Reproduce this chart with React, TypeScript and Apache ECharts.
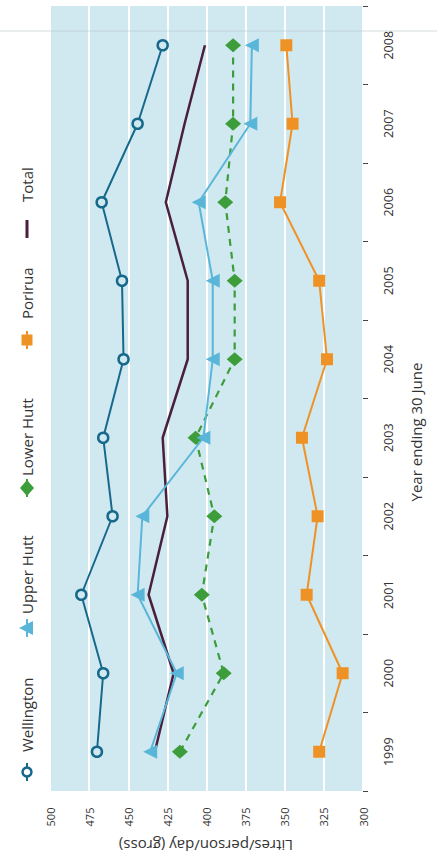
import React, { useEffect, useRef } from "react";
import * as echarts from "echarts";

const years = ["1999", "2000", "2001", "2002", "2003", "2004", "2005", "2006", "2007", "2008"];
const wellington = [470, 466, 480, 460, 466, 453, 454, 467, 444, 428];
const upperHutt = [436, 419, 444, 441, 402, 396, 396, 405, 372, 371];
const lowerHutt = [417, 389, 403, 395, 407, 382, 382, 388, 383, 383];
const porirua = [328, 313, 336, 329, 339, 323, 328, 353, 345, 349];
const total = [433, 421, 437, 425, 428, 412, 412, 426, 414, 401];

const C_WEL = "#17698c";
const C_UH = "#5ab6d9";
const C_LH = "#3c9d3a";
const C_POR = "#ef9226";
const C_TOT = "#4a1f3c";
const BG = "#d0e9f1";
const FONT = "'Open Sans', 'Noto Sans', sans-serif";
const TXT = "#333";

export default function App() {
  const ref = useRef<HTMLDivElement>(null);
  useEffect(() => {
    document.body.style.margin = "0";
    const chart = echarts.init(ref.current!, null, { renderer: "svg" });
    const lx = 27;
    const legendText = (y: number, t: string) => ({
      type: "text",
      x: lx,
      y,
      rotation: Math.PI / 2,
      style: { text: t, fill: TXT, font: `15px ${FONT}`, textAlign: "left", textVerticalAlign: "middle" },
    });
    const legendLine = (y: number, color: string, w = 2) => ({
      type: "line",
      shape: { x1: lx, y1: y - 9, x2: lx, y2: y + 9 },
      style: { stroke: color, lineWidth: w },
    });
    chart.setOption({
      animation: false,
      backgroundColor: "#fff",
      grid: { left: 50, right: 74, top: 6, bottom: 67, show: true, backgroundColor: BG, borderWidth: 0 },
      xAxis: {
        type: "value",
        inverse: true,
        min: 300,
        max: 500,
        interval: 25,
        position: "bottom",
        axisLine: { show: false },
        axisTick: { show: false },
        splitLine: { show: true, lineStyle: { color: "#fff", width: 2 } },
        axisLabel: {
          rotate: 90,
          align: "center",
          verticalAlign: "middle",
          margin: 26,
          fontSize: 11,
          fontFamily: FONT,
          color: TXT,
        },
      },
      yAxis: {
        type: "category",
        data: years,
        position: "right",
        axisLine: { show: false },
        axisTick: { show: true, length: 5, lineStyle: { color: "#444" } },
        splitLine: { show: false },
        axisLabel: {
          rotate: 90,
          align: "center",
          verticalAlign: "middle",
          margin: 25,
          fontSize: 12.5,
          fontFamily: FONT,
          color: TXT,
        },
      },
      series: [
        {
          name: "Total",
          type: "line",
          data: total,
          showSymbol: false,
          symbol: "none",
          lineStyle: { color: C_TOT, width: 2.5 },
          z: 2,
        },
        {
          name: "Porirua",
          type: "line",
          data: porirua,
          symbol: "rect",
          symbolSize: 12,
          itemStyle: { color: C_POR },
          lineStyle: { color: C_POR, width: 2 },
          z: 3,
        },
        {
          name: "Lower Hutt",
          type: "line",
          data: lowerHutt,
          symbol: "diamond",
          symbolSize: [14, 16],
          symbolRotate: 90,
          itemStyle: { color: C_LH },
          lineStyle: { color: C_LH, width: 2.2, type: [7, 6] },
          z: 3,
        },
        {
          name: "Upper Hutt",
          type: "line",
          data: upperHutt,
          symbol: "triangle",
          symbolSize: [14, 14],
          symbolRotate: 90,
          itemStyle: { color: C_UH },
          lineStyle: { color: C_UH, width: 2 },
          z: 3,
        },
        {
          name: "Wellington",
          type: "line",
          data: wellington,
          symbol: "circle",
          symbolSize: 10,
          itemStyle: { color: BG, borderColor: C_WEL, borderWidth: 2.5 },
          lineStyle: { color: C_WEL, width: 2 },
          z: 4,
        },
      ],
      graphic: [
        {
          type: "line",
          shape: { x1: 0, y1: 31, x2: 437, y2: 31 },
          style: { stroke: "#b8c4c8", lineWidth: 1, opacity: 0.6 },
          z: 10,
        },
        // Legend: Wellington
        legendLine(772, C_WEL),
        { type: "circle", shape: { cx: lx, cy: 772, r: 4.5 }, style: { fill: "#fff", stroke: C_WEL, lineWidth: 2.5 } },
        legendText(752, "Wellington"),
        // Upper Hutt
        legendLine(628, C_UH),
        { type: "polygon", shape: { points: [[lx - 8, 628], [lx + 6, 621], [lx + 6, 635]] }, style: { fill: C_UH } },
        legendText(614, "Upper Hutt"),
        // Lower Hutt
        legendLine(488, C_LH),
        { type: "polygon", shape: { points: [[lx, 480], [lx + 7, 488], [lx, 496], [lx - 7, 488]] }, style: { fill: C_LH } },
        legendText(476, "Lower Hutt"),
        // Porirua
        legendLine(340, C_POR),
        { type: "rect", shape: { x: lx - 5.5, y: 334.5, width: 11, height: 11 }, style: { fill: C_POR } },
        legendText(319, "Porirua"),
        // Total
        legendLine(229, C_TOT, 3),
        legendText(202, "Total"),
        // Axis names
        {
          type: "text",
          x: 206,
          y: 846,
          rotation: Math.PI,
          style: { text: "Litres/person/day (gross)", fill: TXT, font: `15px ${FONT}`, textAlign: "center", textVerticalAlign: "middle" },
        },
        {
          type: "text",
          x: 416,
          y: 432,
          rotation: Math.PI / 2,
          style: { text: "Year ending 30 June", fill: TXT, font: `15px ${FONT}`, textAlign: "center", textVerticalAlign: "middle" },
        },
      ],
    });
    return () => chart.dispose();
  }, []);
  return <div ref={ref} style={{ width: 437, height: 858 }} />;
}
